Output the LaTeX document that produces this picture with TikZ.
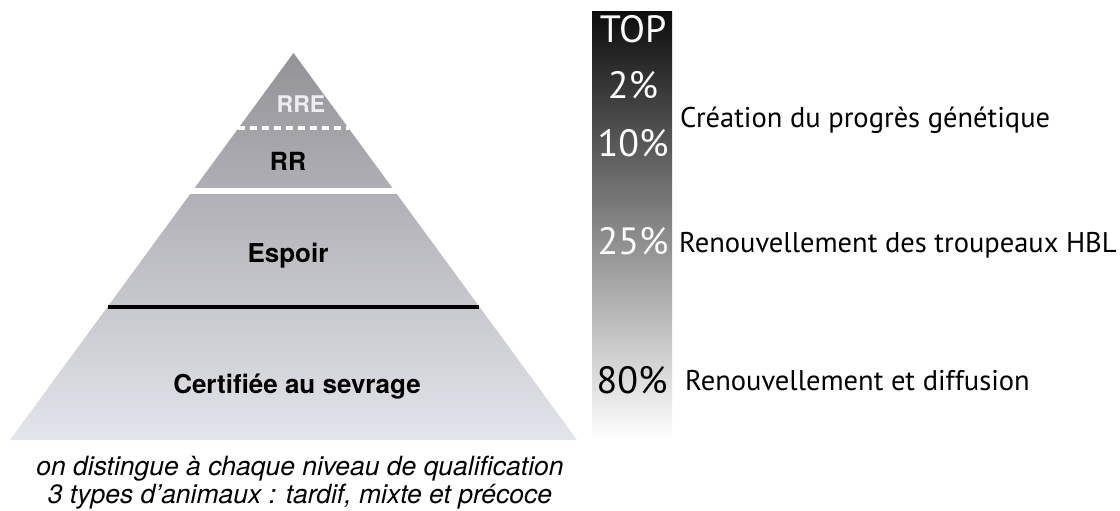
\documentclass[tikz,border=0pt]{standalone}
\usepackage{fontspec}
\setmainfont{TeX Gyre Heros}
\newfontfamily\myriad{PT Sans}
\definecolor{pyrtop}{RGB}{146,146,151}
\definecolor{pyrbot}{RGB}{228,228,236}
\definecolor{bartop}{RGB}{13,13,13}
\definecolor{barmid}{RGB}{140,140,140}
\definecolor{rretext}{RGB}{238,238,240}
\begin{document}
\begin{tikzpicture}[x=1pt,y=-1pt,
  tier/.style={font=\fontsize{26}{30}\selectfont\bfseries, inner sep=0pt, anchor=base},
  pct/.style={font=\myriad\fontsize{38}{42}\selectfont, inner sep=0pt, anchor=base},
  lbl/.style={font=\myriad\fontsize{28.5}{33}\selectfont, inner sep=0pt, anchor=base west},
  captxt/.style={font=\fontsize{26.5}{30}\selectfont\itshape, inner sep=0pt, anchor=base}]
\useasboundingbox (0,0) rectangle (1120,511);
% pyramid
\shade[top color=pyrtop, bottom color=pyrbot] (293.5,53) -- (577,440) -- (10,440) -- cycle;
\draw[white, line width=3.5pt, dash pattern=on 7pt off 5pt] (238,128) -- (349,128);
\draw[white, line width=6pt] (180,191) -- (408,191);
\draw[black, line width=4pt] (108,307) -- (479,307);
\node[tier, font=\fontsize{23}{26}\selectfont\bfseries, text=rretext] (rre) at (301,113) {RRE};
\node[tier, font=\fontsize{25}{28}\selectfont\bfseries] (rr) at (288,170) {RR};
\node[tier] (espoir) at (288,262) {Espoir};
\node[tier] (cert) at (297,393) {Certifiée au sevrage};
\node[captxt] (cap1) at (300,475) {on distingue à chaque niveau de qualification};
\node[captxt] (cap2) at (300,503) {3 types d’animaux : tardif, mixte et précoce};
% bar
\shade[top color=bartop, middle color=barmid, bottom color=white] (592,12) rectangle (672,440);
\node[pct, text=white] (top) at (633,43) {TOP};
\node[pct, text=white] (p2) at (633,99) {2\%};
\node[pct, text=white] (p10) at (633,157) {10\%};
\node[pct, text=white] (p25) at (633,254) {25\%};
\node[pct, text=black] (p80) at (632,393) {80\%};
% labels
\node[lbl] (l1) at (680,128) {Création du progrès génétique};
\node[lbl] (l2) at (679,252) {Renouvellement des troupeaux HBL};
\node[lbl] (l3) at (685,390) {Renouvellement et diffusion};
\end{tikzpicture}
\end{document}
